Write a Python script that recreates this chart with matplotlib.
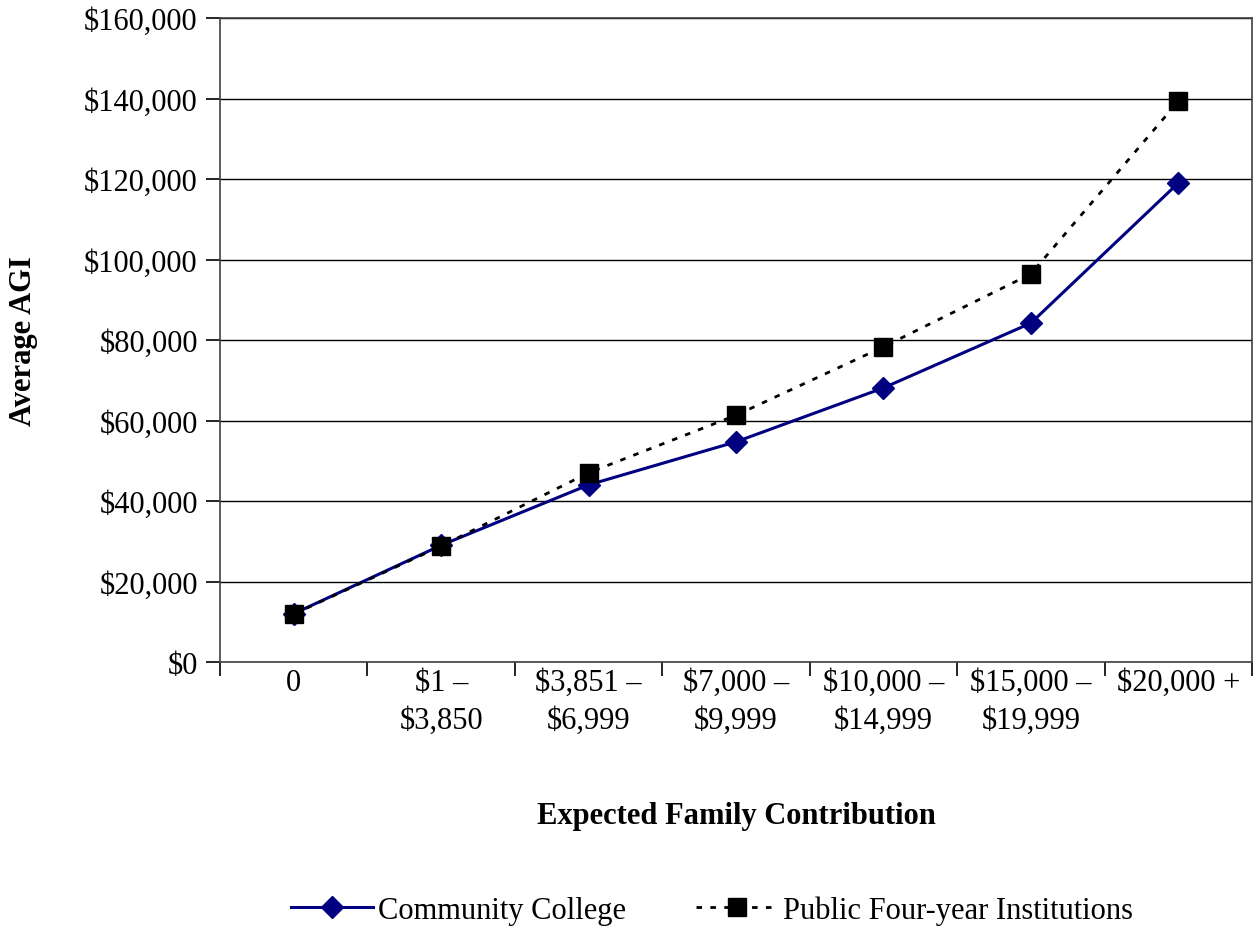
import matplotlib
matplotlib.use("Agg")
import matplotlib.pyplot as plt
from matplotlib.ticker import FuncFormatter, FixedLocator

categories = ["0", "$1 –\n$3,850", "$3,851 –\n$6,999", "$7,000 –\n$9,999",
              "$10,000 –\n$14,999", "$15,000 –\n$19,999", "$20,000 +"]
community_college = [12000, 29000, 44000, 54700, 68100, 84200, 119000]
public_four_year = [11900, 28800, 47000, 61300, 78300, 96400, 139300]

plt.rcParams['font.family'] = ['Liberation Serif', 'DejaVu Serif']

fig = plt.figure(figsize=(12.54, 9.28), dpi=100)
ax = fig.add_axes([220 / 1254, 1 - 663 / 928, 1032 / 1254, 644 / 928])

x = list(range(len(categories)))
ax.plot(x, community_college, color='#000080', lw=2.2, marker='D', ms=11,
        label='Community College', zorder=3)
ax.plot(x, public_four_year, color='black', lw=2.0, ls=(0, (2, 3)), marker='s',
        ms=13, label='Public Four-year Institutions', zorder=4)

ax.set_xlim(-0.5, len(categories) - 0.5)
ax.set_ylim(0, 160000)
ax.yaxis.set_major_locator(FixedLocator(range(0, 160001, 20000)))
ax.yaxis.set_major_formatter(FuncFormatter(lambda v, p: f"${int(v):,}"))
ax.grid(axis='y', color='black', lw=1.0)
ax.set_axisbelow(True)

ax.set_xticks([i + 0.5 for i in range(-1, len(categories))])
ax.set_xticklabels([])
ax.set_xticks(x, minor=True)
ax.set_xticklabels(categories, minor=True, linespacing=1.4)
ax.tick_params(axis='x', which='minor', length=0, pad=4, labelsize=22)
ax.tick_params(axis='x', which='major', length=10, width=1.2, direction='out')
ax.tick_params(axis='y', length=10, width=1.2, direction='out', labelsize=22, pad=6)

for s in ax.spines.values():
    s.set_color('#404040')
    s.set_linewidth(1.2)

fig.text(24 / 1254, 1 - 341 / 928, 'Average AGI', fontsize=22, fontweight='bold',
         rotation=90, ha='center', va='center')
ax.set_xlabel('Expected Family Contribution', fontsize=22, fontweight='bold', labelpad=48)

fig.legend(loc='center', bbox_to_anchor=(712 / 1254, 1 - 911 / 928), ncol=2,
           frameon=False, fontsize=22, handlelength=2.7, columnspacing=2.3,
           handletextpad=0.15)

fig.savefig('out.png', dpi=100)
